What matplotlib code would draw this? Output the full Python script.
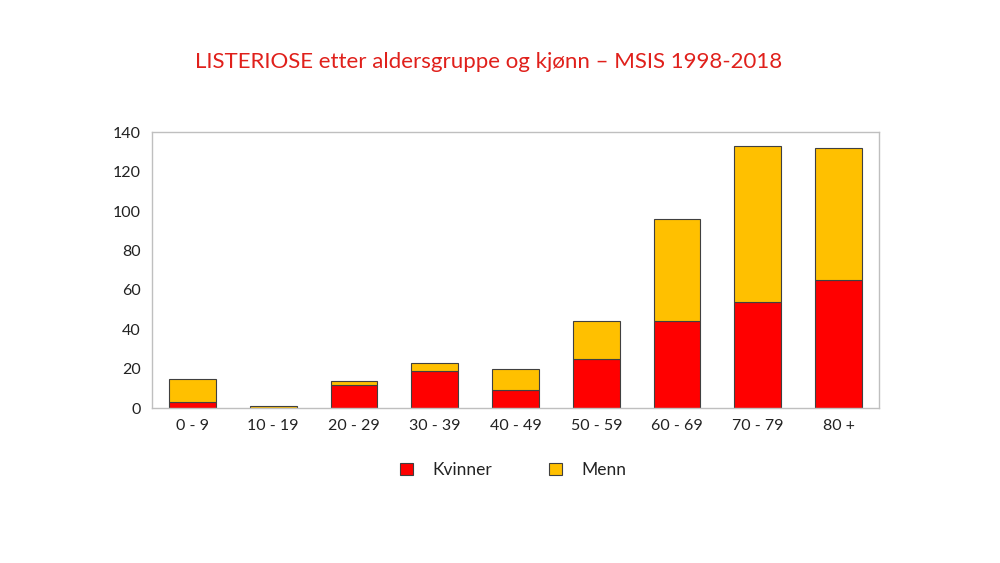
import matplotlib.pyplot as plt
import numpy as np

# Listeriose etter aldersgruppe og kjønn
aldersgrupper = ['0 - 9', '10 - 19', '20 - 29', '30 - 39', '40 - 49',
                 '50 - 59', '60 - 69', '70 - 79', '80 +']
kvinner = [3, 0, 12, 19, 9, 25, 44, 54, 65]
menn = [12, 1, 2, 4, 11, 19, 52, 79, 67]
y_ticks = [0, 20, 40, 60, 80, 100, 120, 140]

plt.rcParams['font.family'] = ['Lato', 'DejaVu Sans']

fig = plt.figure(figsize=(10, 5.63), dpi=100)
ax = fig.add_axes([0.152, 0.275, 0.727, 0.49])

x = np.arange(len(aldersgrupper))
ax.bar(x, kvinner, width=0.58, color='#ff0000', edgecolor='#404040',
       linewidth=0.8, label='Kvinner')
ax.bar(x, menn, width=0.58, bottom=kvinner, color='#ffc000',
       edgecolor='#404040', linewidth=0.8, label='Menn')

ax.set_xlim(-0.5, len(aldersgrupper) - 0.5)
ax.set_ylim(0, 140)
ax.set_yticks(y_ticks)
ax.set_xticks(x)
ax.set_xticklabels(aldersgrupper)
ax.tick_params(axis='both', length=0, labelsize=11.5, colors='#222222', pad=8)

for side in ['top', 'right', 'left', 'bottom']:
    ax.spines[side].set_color('#bfbfbf')
    ax.spines[side].set_linewidth(1)

fig.text(0.489, 0.89, 'LISTERIOSE etter aldersgruppe og kjønn \u2013 MSIS 1998-2018',
         ha='center', va='center', color='#e0201b', fontsize=16)

leg = fig.legend(loc='center', bbox_to_anchor=(0.513, 0.165), ncol=2,
                 frameon=False, fontsize=12.5, handlelength=0.75, handleheight=0.75,
                 columnspacing=3.3, handletextpad=1.1)
for t in leg.get_texts():
    t.set_color('#222222')

fig.savefig('out.png', dpi=100)
